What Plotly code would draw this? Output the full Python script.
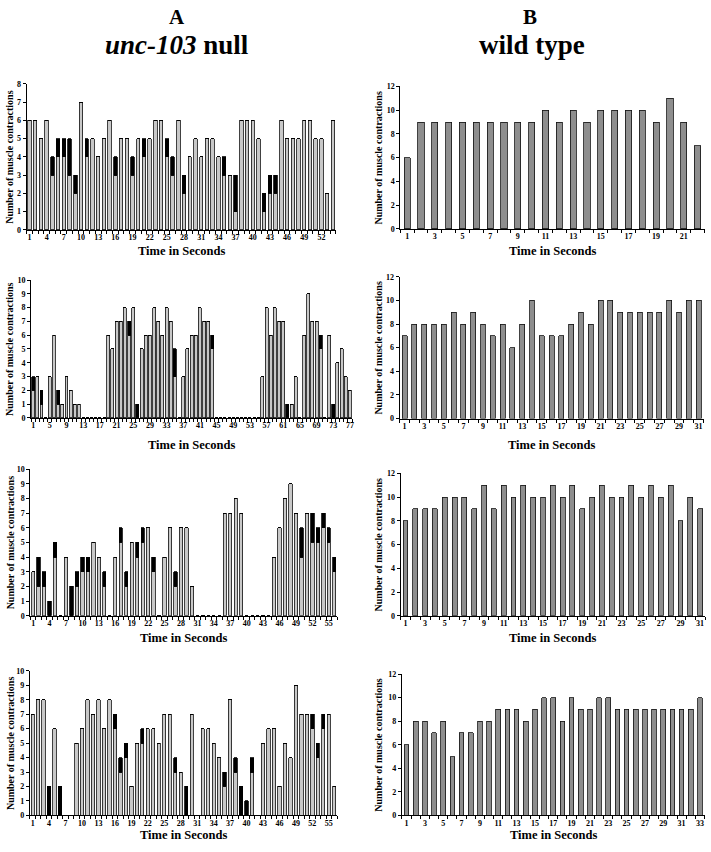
import plotly.graph_objects as go

W, H = 711, 852

# ---------------- data ----------------
# A: unc-103 null, stacked: gray part + black part per second
a1_gray = [6,6,5,6,3,4,4,3,2,7,4,5,4,5,6,3,5,5,3,5,4,5,6,6,4,3,6,2,4,5,4,5,5,4,3,3,1,6,6,6,5,1,2,2,6,5,5,5,6,6,5,5,2,6]
a1_black = [0,0,0,0,1,1,1,2,1,0,1,0,0,0,0,1,0,0,1,0,1,0,0,0,1,1,0,1,0,0,0,0,0,0,1,0,2,0,0,0,0,1,1,1,0,0,0,0,0,0,0,0,0,0]

a2_gray = [2,3,1,0,3,6,1,1,3,2,1,1,0,0,0,0,0,0,6,5,7,7,8,6,8,0,5,6,6,8,7,6,8,7,3,0,3,5,6,6,8,7,7,5,0,0,0,0,0,0,0,0,0,0,0,3,8,6,8,7,7,0,1,3,0,6,9,7,7,5,0,6,0,4,5,3,2]
a2_black = [1,0,1,0,0,0,1,0,0,0,0,0,0,0,0,0,0,0,0,0,0,0,0,1,0,1,0,0,0,0,0,0,0,0,2,0,0,0,0,0,0,0,0,1,0,0,0,0,0,0,0,0,0,0,0,0,0,0,0,0,0,1,0,0,0,0,0,0,0,1,0,0,1,0,0,0,0]

a3_gray = [3,2,2,0,4,0,4,0,2,3,3,5,4,2,0,4,5,2,5,4,5,6,3,0,4,6,2,6,6,2,0,0,0,0,0,7,7,8,7,0,0,0,0,0,4,6,8,9,7,4,7,5,5,6,5,3]
a3_black = [0,2,1,1,1,0,0,2,1,1,1,0,0,1,0,0,1,1,0,1,1,0,1,0,0,0,1,0,0,0,0,0,0,0,0,0,0,0,0,0,0,0,0,0,0,0,0,0,0,2,0,2,1,1,1,1]

a4_gray = [7,8,8,0,6,0,0,0,5,6,8,7,8,6,8,6,3,4,2,5,5,6,6,5,7,7,3,3,0,7,0,6,6,5,4,2,8,3,0,0,3,0,5,6,6,2,5,4,9,7,7,6,4,6,7,2]
a4_black = [0,0,0,2,0,2,0,0,0,0,0,0,0,0,0,1,1,1,0,0,1,0,0,0,0,0,1,0,2,0,0,0,0,0,0,1,0,1,2,1,1,0,0,0,0,0,0,0,0,0,0,1,1,1,0,0]

# B: wild type
b1 = [6,9,9,9,9,9,9,9,9,9,10,9,10,9,10,10,10,10,9,11,9,7]
b2 = [7,8,8,8,8,9,8,9,8,7,8,6,8,10,7,7,7,8,9,8,10,10,9,9,9,9,9,10,9,10,10]
b3 = [8,9,9,9,10,10,10,9,11,9,11,10,11,10,10,11,10,11,9,10,11,10,10,11,10,11,10,11,8,10,9]
b4 = [6,8,8,7,8,5,7,7,8,8,9,9,9,8,9,10,10,8,10,9,9,10,10,9,9,9,9,9,9,9,9,9,10]

# ---------------- styling / layout ----------------
A_GRAY = "#c8c8c8"
B_GRAY = "#8e8e8e"
FONT = "Liberation Serif"

panels = [
    dict(gray=a1_gray, black=a1_black, ymax=8, dt=1, step=3, x0=26.7, x1=336.7, yt=80.7, yb=228.3, ty=250, yx=10, w=0.6, col=A_GRAY),
    dict(gray=a2_gray, black=a2_black, ymax=10, dt=1, step=4, x0=31.2, x1=353.0, yt=279.0, yb=418.3, ty=446, yx=10, w=0.7, col=A_GRAY),
    dict(gray=a3_gray, black=a3_black, ymax=10, dt=1, step=3, x0=30.5, x1=338.0, yt=470.0, yb=618.3, ty=641, yx=10, w=0.6, col=A_GRAY),
    dict(gray=a4_gray, black=a4_black, ymax=10, dt=1, step=3, x0=30.0, x1=338.0, yt=674.0, yb=820.0, ty=840, yx=10, w=0.6, col=A_GRAY),
    dict(gray=b1, black=None, ymax=12, dt=2, step=2, x0=401.4, x1=706.5, yt=83.3, yb=227.3, ty=250, yx=380, w=0.45, col=B_GRAY),
    dict(gray=b2, black=None, ymax=12, dt=2, step=2, x0=400.8, x1=705.5, yt=275.7, yb=419.0, ty=446, yx=380, w=0.5, col=B_GRAY),
    dict(gray=b3, black=None, ymax=12, dt=2, step=2, x0=401.7, x1=707.0, yt=474.3, yb=618.3, ty=641, yx=380, w=0.5, col=B_GRAY),
    dict(gray=b4, black=None, ymax=12, dt=2, step=2, x0=403.1, x1=706.5, yt=677.3, yb=820.0, ty=840, yx=380, w=0.5, col=B_GRAY),
]

annotations = []
layout_axes = {}
fig = go.Figure()
for i, p in enumerate(panels, start=1):
    n = len(p["gray"])
    xs = list(range(1, n + 1))
    xref = "x" if i == 1 else f"x{i}"
    yref = "y" if i == 1 else f"y{i}"
    kw = dict(xaxis=xref, yaxis=yref, width=p["w"], showlegend=False, hoverinfo="skip")
    fig.add_trace(go.Bar(x=xs, y=p["gray"], marker=dict(color=p["col"], line=dict(color="#111", width=0.8)), **kw))
    if p["black"] is not None:
        fig.add_trace(go.Bar(x=xs, y=p["black"], marker=dict(color="#000", line=dict(color="#000", width=0.8)), **kw))

    xd = [p["x0"] / W, p["x1"] / W]
    yd = [1 - p["yb"] / H, 1 - p["yt"] / H]
    xk = "xaxis" if i == 1 else f"xaxis{i}"
    yk = "yaxis" if i == 1 else f"yaxis{i}"
    tv = list(range(1, n + 1, p["step"]))
    layout_axes[xk] = dict(
        domain=xd, anchor=yref, range=[0.5, n + 0.5], showline=True, linecolor="#000", linewidth=1,
        tickmode="array", tickvals=tv, ticktext=[str(v) for v in tv], ticks="", showgrid=False, zeroline=False,
        tickfont=dict(family=FONT, size=8, color="#000", weight="bold"),
        minor=dict(tickmode="array", tickvals=[k + 0.5 for k in range(0, n + 1)], ticks="outside", ticklen=3,
                   tickcolor="#000", tickwidth=1, showgrid=False),
        fixedrange=True,
    )
    layout_axes[yk] = dict(
        domain=yd, anchor=xref, range=[0, p["ymax"]], showline=True, linecolor="#000", linewidth=1,
        tickmode="linear", tick0=0, dtick=p["dt"], ticks="outside", ticklen=3, tickcolor="#000",
        showgrid=False, zeroline=False, tickfont=dict(family=FONT, size=8, color="#000", weight="bold"),
        fixedrange=True,
    )
    annotations.append(dict(
        text="Time in Seconds", xref="paper", yref="paper", x=(xd[0] + xd[1]) / 2, y=1 - p["ty"] / H,
        showarrow=False, xanchor="center", yanchor="middle",
        font=dict(family=FONT, size=12.5, color="#000", weight="bold")))
    annotations.append(dict(
        text="Number of muscle contractions", xref="paper", yref="paper", x=p["yx"] / W, y=(yd[0] + yd[1]) / 2,
        textangle=-90, showarrow=False, xanchor="center", yanchor="middle",
        font=dict(family=FONT, size=10, color="#000", weight="bold")))

heads = [("A", 177, 13, 21), ("<i>unc-103</i> null", 178, 41, 27), ("B", 531, 13, 21), ("wild type", 533, 41, 27)]
for txt, hx, hy, fs in heads:
    annotations.append(dict(text=txt, xref="paper", yref="paper", x=hx / W, y=1 - hy / H, showarrow=False,
                            xanchor="center", yanchor="middle", borderpad=0,
                            font=dict(family=FONT, size=fs, color="#000", weight="bold")))

fig.update_layout(
    width=W, height=H, margin=dict(l=0, r=0, t=0, b=0), paper_bgcolor="white", plot_bgcolor="white",
    barmode="stack", annotations=annotations, **layout_axes,
)
fig.write_html(
    "out.html",
    config={"displayModeBar": False},
    post_script="document.body.style.margin='0';document.body.style.padding='0';document.body.style.overflow='hidden';",
)
